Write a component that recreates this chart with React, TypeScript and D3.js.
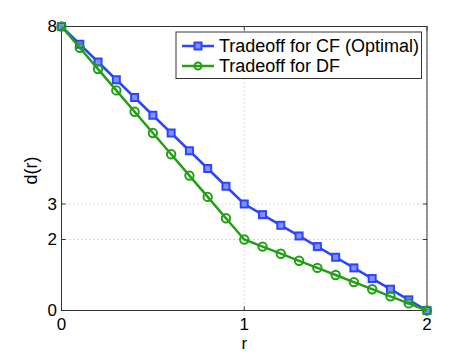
import React from "react";
import * as d3 from "d3";

const rValues = [0, 0.1, 0.2, 0.3, 0.4, 0.5, 0.6, 0.7, 0.8, 0.9, 1, 1.1, 1.2, 1.3, 1.4, 1.5, 1.6, 1.7, 1.8, 1.9, 2];
const cfValues = [8, 7.5, 7, 6.5, 6, 5.5, 5, 4.5, 4, 3.5, 3, 2.7, 2.4, 2.1, 1.8, 1.5, 1.2, 0.9, 0.6, 0.3, 0];
const dfValues = [8, 7.4, 6.8, 6.2, 5.6, 5, 4.4, 3.8, 3.2, 2.6, 2, 1.8, 1.6, 1.4, 1.2, 1, 0.8, 0.6, 0.4, 0.2, 0];
const xTicks = [0, 1, 2];
const yTicks = [0, 2, 3, 8];
const seriesNames = ["Tradeoff for CF (Optimal)", "Tradeoff for DF"];

const BLUE = "#2b45ff";
const GREEN = "#22a014";
const FONT = "'Liberation Sans', Arial, sans-serif";

export default function App() {
  const width = 471;
  const height = 354;
  const margin = { top: 26.5, right: 44, bottom: 43.5, left: 61.5 };
  const innerW = width - margin.left - margin.right;
  const innerH = height - margin.top - margin.bottom;

  const x = d3.scaleLinear().domain([0, 2]).range([0, innerW]);
  const y = d3.scaleLinear().domain([0, 8]).range([innerH, 0]);

  const line = d3
    .line<number>()
    .x((_, i) => x(rValues[i]))
    .y((d) => y(d));

  return (
    <svg
      width={width}
      height={height}
      style={{ position: "absolute", left: 0, top: 0, background: "#fff" }}
      fontFamily={FONT}
    >
      <g transform={`translate(${margin.left},${margin.top})`}>
        {/* grid */}
        {xTicks.map((t) => (
          <line key={"gx" + t} x1={x(t)} x2={x(t)} y1={0} y2={innerH}
            stroke="#b0b0b0" strokeWidth={1} strokeDasharray="1,3" />
        ))}
        {yTicks.map((t) => (
          <line key={"gy" + t} x1={0} x2={innerW} y1={y(t)} y2={y(t)}
            stroke="#b0b0b0" strokeWidth={1} strokeDasharray="1,3" />
        ))}

        {/* ticks */}
        {xTicks.map((t) => (
          <g key={"tx" + t}>
            <line x1={x(t)} x2={x(t)} y1={innerH} y2={innerH - 4} stroke="#333" />
            <line x1={x(t)} x2={x(t)} y1={0} y2={4} stroke="#333" />
            <text x={x(t)} y={innerH + 19.5} textAnchor="middle" fontSize={17} fill="#000">{t}</text>
          </g>
        ))}
        {yTicks.map((t) => (
          <g key={"ty" + t}>
            <line x1={0} x2={4} y1={y(t)} y2={y(t)} stroke="#333" />
            <line x1={innerW} x2={innerW - 4} y1={y(t)} y2={y(t)} stroke="#333" />
            <text x={-4.5} y={y(t)} dy="0.35em" textAnchor="end" fontSize={17} fill="#000">{t}</text>
          </g>
        ))}

        {/* box */}
        <rect x={0} y={0} width={innerW} height={innerH} fill="none" stroke="#333" strokeWidth={1} />

        {/* series */}
        <path d={line(cfValues) ?? ""} fill="none" stroke={BLUE} strokeWidth={2.5} />
        {cfValues.map((v, i) => (
          <rect key={"cf" + i} x={x(rValues[i]) - 3.5} y={y(v) - 3.5} width={7} height={7}
            fill="#7f90ff" stroke={BLUE} strokeWidth={2} />
        ))}
        <path d={line(dfValues) ?? ""} fill="none" stroke={GREEN} strokeWidth={2.5} />
        {dfValues.map((v, i) => (
          <circle key={"df" + i} cx={x(rValues[i])} cy={y(v)} r={4.2}
            fill="none" stroke={GREEN} strokeWidth={2} />
        ))}

        {/* legend */}
        <g transform={`translate(${176 - margin.left},${32 - margin.top})`}>
          <rect x={0} y={0} width={245.5} height={46.5} fill="#fff" stroke="#333" strokeWidth={1} />
          {seriesNames.map((name, i) => {
            const cy = 14 + i * 20;
            const color = i === 0 ? BLUE : GREEN;
            return (
              <g key={name}>
                <line x1={6} x2={38} y1={cy} y2={cy} stroke={color} strokeWidth={2.5} />
                {i === 0 ? (
                  <rect x={18.5} y={cy - 3.5} width={7} height={7} fill="#7f90ff" stroke={color} strokeWidth={2} />
                ) : (
                  <circle cx={22} cy={cy} r={3.5} fill="none" stroke={color} strokeWidth={2} />
                )}
                <text x={43} y={cy} dy="0.35em" fontSize={18} fill="#000">{name}</text>
              </g>
            );
          })}
        </g>

        {/* axis labels */}
        <text x={innerW / 2} y={innerH + 38.5} textAnchor="middle" fontSize={17} fill="#000">r</text>
        <text transform={`translate(${-24.5},${innerH / 2 + 2}) rotate(-90)`} textAnchor="middle" fontSize={18} fill="#000">d(r)</text>
      </g>
    </svg>
  );
}
